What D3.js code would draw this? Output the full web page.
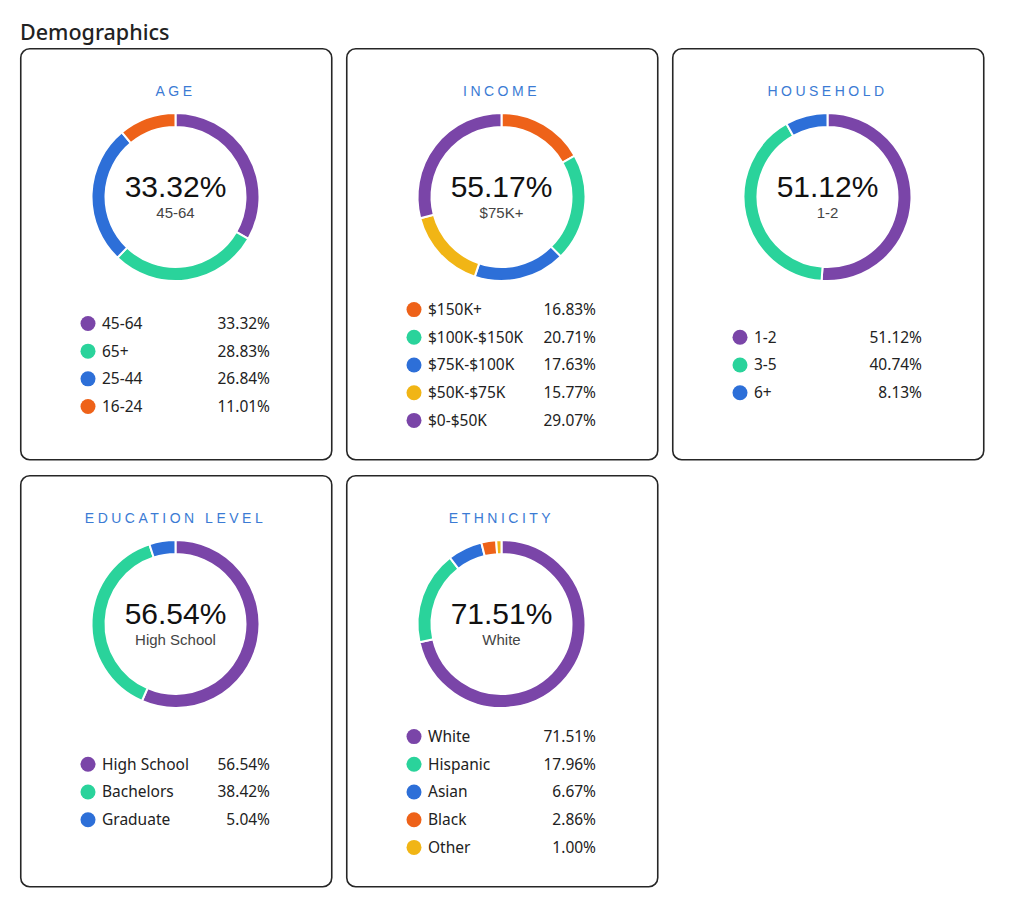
<!DOCTYPE html>
<html><head><meta charset="utf-8">
<script src="https://cdn.jsdelivr.net/npm/d3@7"></script>
<style>body{margin:0;background:#fff;}svg{display:block;}</style>
</head><body>
<svg id="c" width="1024" height="914"></svg>
<script>
const chartTitle = "Demographics";
const panelTitles = ["AGE", "INCOME", "HOUSEHOLD", "EDUCATION LEVEL", "ETHNICITY"];
const ageLabels = ["45-64", "65+", "25-44", "16-24"];
const ageValues = [33.32, 28.83, 26.84, 11.01];
const ageColors = ["purple", "green", "blue", "orange"];
const incomeLabels = ["$150K+", "$100K-$150K", "$75K-$100K", "$50K-$75K", "$0-$50K"];
const incomeValues = [16.83, 20.71, 17.63, 15.77, 29.07];
const incomeColors = ["orange", "green", "blue", "yellow", "purple"];
const householdLabels = ["1-2", "3-5", "6+"];
const householdValues = [51.12, 40.74, 8.13];
const householdColors = ["purple", "green", "blue"];
const educationLabels = ["High School", "Bachelors", "Graduate"];
const educationValues = [56.54, 38.42, 5.04];
const educationColors = ["purple", "green", "blue"];
const ethnicityLabels = ["White", "Hispanic", "Asian", "Black", "Other"];
const ethnicityValues = [71.51, 17.96, 6.67, 2.86, 1.00];
const ethnicityColors = ["purple", "green", "blue", "orange", "yellow"];
const centerLabels = ["45-64", "$75K+", "1-2", "High School", "White"];
const centerValues = [33.32, 55.17, 51.12, 56.54, 71.51];

const palette = {purple:"#7a45a8", green:"#2ad39b", blue:"#2d6fd8", orange:"#ee6219", yellow:"#f1b515"};

const panels = [
  {labels:ageLabels, values:ageValues, colors:ageColors},
  {labels:incomeLabels, values:incomeValues, colors:incomeColors},
  {labels:householdLabels, values:householdValues, colors:householdColors},
  {labels:educationLabels, values:educationValues, colors:educationColors},
  {labels:ethnicityLabels, values:ethnicityValues, colors:ethnicityColors}
];

const svg = d3.select("#c");
svg.append("text").attr("x", 20).attr("y", 40)
  .attr("font-family", "'Noto Sans', sans-serif").attr("font-size", 21.5).attr("font-weight", 500)
  .attr("fill", "#222").text(chartTitle);

const cardW = 311, cardH = 411;
const colX = [20, 346, 672], rowY = [48, 475];
const pie = d3.pie().sort(null).value(d => d);
const arc = d3.arc().innerRadius(70).outerRadius(84);
const fmt = d3.format(".2f");

panels.forEach((p, i) => {
  const x0 = colX[i % 3], y0 = rowY[Math.floor(i / 3)];
  const g = svg.append("g").attr("transform", `translate(${x0},${y0})`);
  g.append("rect").attr("x", 0.75).attr("y", 0.75).attr("width", cardW).attr("height", cardH)
    .attr("rx", 9).attr("fill", "#fff").attr("stroke", "#262626").attr("stroke-width", 1.6);
  g.append("text").attr("x", cardW / 2).attr("y", 48).attr("text-anchor", "middle")
    .attr("font-family", "'Liberation Sans', Arial, sans-serif").attr("font-size", 14)
    .attr("letter-spacing", 3.5).attr("fill", "#3b7bd4").text(panelTitles[i]);
  const dg = g.append("g").attr("transform", `translate(155.5,149)`);
  dg.selectAll("path").data(pie(p.values)).join("path")
    .attr("d", arc).attr("fill", (d, j) => palette[p.colors[j]])
    .attr("stroke", "#fff").attr("stroke-width", 2);
  dg.append("text").attr("y", 0).attr("text-anchor", "middle")
    .attr("font-family", "'Liberation Sans', Arial, sans-serif").attr("font-size", 30)
    .attr("fill", "#111").text(fmt(centerValues[i]) + "%");
  dg.append("text").attr("y", 20.5).attr("text-anchor", "middle")
    .attr("font-family", "'Liberation Sans', Arial, sans-serif").attr("font-size", 15)
    .attr("fill", "#444").text(centerLabels[i]);
  const n = p.labels.length;
  const ly = d3.scaleLinear().domain([0, n - 1]).range([317 - (n - 1) / 2 * 27.7, 317 + (n - 1) / 2 * 27.7]);
  const lg = g.append("g");
  p.labels.forEach((lab, j) => {
    const y = ly(j);
    lg.append("circle").attr("cx", 68).attr("cy", y).attr("r", 7.5).attr("fill", palette[p.colors[j]]);
    lg.append("text").attr("x", 82).attr("y", y).attr("dy", "0.35em")
      .attr("font-family", "'Noto Sans', sans-serif").attr("font-size", 15.5).attr("fill", "#222").text(lab);
    lg.append("text").attr("x", 250).attr("y", y).attr("dy", "0.35em").attr("text-anchor", "end")
      .attr("font-family", "'Noto Sans', sans-serif").attr("font-size", 15.5).attr("fill", "#222").text(fmt(p.values[j]) + "%");
  });
});
</script>
</body></html>
